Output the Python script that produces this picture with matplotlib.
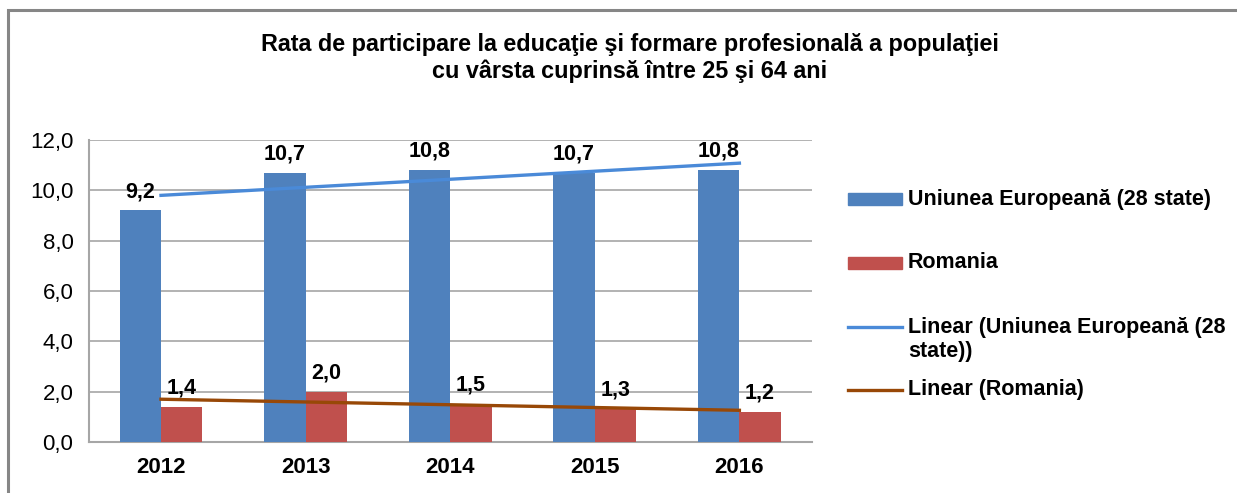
import numpy as np
import matplotlib
matplotlib.use('Agg')
import matplotlib.pyplot as plt
from matplotlib.patches import Rectangle
from matplotlib.lines import Line2D

# Date
ani = ['2012', '2013', '2014', '2015', '2016']
ue28 = [9.2, 10.7, 10.8, 10.7, 10.8]
romania = [1.4, 2.0, 1.5, 1.3, 1.2]
yticks = [0, 2, 4, 6, 8, 10, 12]

plt.rcParams['font.family'] = ['Liberation Sans', 'DejaVu Sans']

c_ue = '#4F81BD'
c_ro = '#C0504D'
c_ue_tr = '#4A8AD8'
c_ro_tr = '#984807'

W, H = 1237, 493
fig = plt.figure(figsize=(W / 100, H / 100), dpi=100)
ax = fig.add_axes([88.7 / W, 51 / H, 723 / W, 302 / H])

x = np.arange(len(ani))
bw = 0.286
ax.bar(x - bw / 2, ue28, bw, color=c_ue, zorder=3)
ax.bar(x + bw / 2, romania, bw, color=c_ro, zorder=3)

# trendlines (regresie liniara, ca in Excel)
for vals, col in [(ue28, c_ue_tr), (romania, c_ro_tr)]:
    k, b = np.polyfit(x, vals, 1)
    ax.plot(x, k * x + b, color=col, lw=2.4, zorder=4)

for i in range(len(ani)):
    ax.annotate(f'{ue28[i]:.1f}'.replace('.', ','), (x[i] - bw / 2, ue28[i]),
                xytext=(0, 6), textcoords='offset points', ha='center', va='bottom',
                fontsize=15.5, fontweight='bold', zorder=5)
    ax.annotate(f'{romania[i]:.1f}'.replace('.', ','), (x[i] + bw / 2, romania[i]),
                xytext=(0, 6), textcoords='offset points', ha='center', va='bottom',
                fontsize=15.5, fontweight='bold', zorder=5)

ax.set_xlim(-0.5, len(ani) - 0.5)
ax.set_ylim(0, 12)
ax.set_yticks(yticks)
ax.set_yticklabels([f'{v:.1f}'.replace('.', ',') for v in yticks], fontsize=16)
ax.set_xticks(x)
ax.set_xticklabels(ani, fontsize=16, fontweight='bold')
ax.tick_params(axis='y', length=0, pad=11)
ax.tick_params(axis='x', length=0, pad=11)
ax.grid(axis='y', color='#A6A6A6', lw=1.2, zorder=0)
for s in ['top', 'right']:
    ax.spines[s].set_visible(False)
for s in ['left', 'bottom']:
    ax.spines[s].set_color('#A6A6A6')
    ax.spines[s].set_linewidth(1.5)

fig.text(630 / W, 1 - 58 / H,
         'Rata de participare la educaţie şi formare profesională a populaţiei\n'
         'cu vârsta cuprinsă între 25 şi 64 ani',
         ha='center', va='center', fontsize=16.8, fontweight='bold', linespacing=1.2)

# legenda
leg_x0, leg_x1, tx = 848 / W, 902 / W, 908 / W
items = [('bar', c_ue, 199, 'Uniunea Europeană (28 state)'),
         ('bar', c_ro, 263, 'Romania'),
         ('line', c_ue_tr, 327, 'Linear (Uniunea Europeană (28'),
         ('line', c_ro_tr, 390, 'Linear (Romania)')]
for kind, col, yp, lab in items:
    yf = 1 - yp / H
    if kind == 'bar':
        fig.add_artist(Rectangle((leg_x0, yf - 6 / H), leg_x1 - leg_x0, 12 / H,
                                 transform=fig.transFigure, color=col))
    else:
        fig.add_artist(Line2D([leg_x0, leg_x1], [yf, yf], transform=fig.transFigure,
                              color=col, lw=2.4))
    fig.text(tx, yf, lab, ha='left', va='center', fontsize=15.5, fontweight='bold')
fig.text(tx, 1 - 352 / H, 'state))', ha='left', va='center', fontsize=15.5, fontweight='bold')

# chenar
fig.add_artist(Rectangle((8 / W, -0.2), 1.5, 1.2 - 10 / H, transform=fig.transFigure,
                         fill=False, edgecolor='#868686', lw=2.2))

fig.savefig('out.png', dpi=100)
